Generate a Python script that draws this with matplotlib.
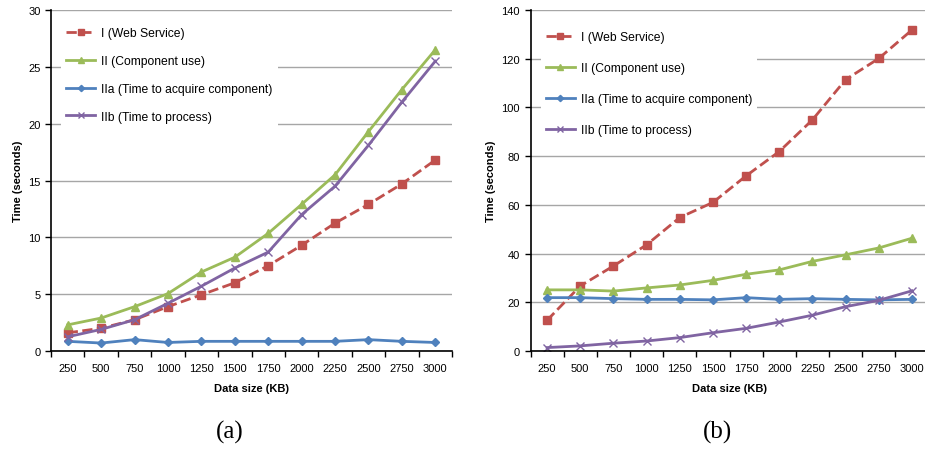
import numpy as np
import matplotlib as mpl
import matplotlib.pyplot as plt

# --- data
sizes = ["250", "500", "750", "1000", "1250", "1500", "1750",
         "2000", "2250", "2500", "2750", "3000"]
labels = ["I (Web Service)", "II (Component use)",
          "IIa (Time to acquire component)", "IIb (Time to process)"]

# panel (a)
a_web = [1.6, 2.0, 2.75, 3.9, 4.95, 6.0, 7.5, 9.3, 11.25, 12.9, 14.7, 16.8]
a_comp = [2.3, 2.9, 3.9, 5.05, 6.95, 8.25, 10.35, 12.9, 15.5, 19.3, 23.0, 26.5]
a_acq = [0.85, 0.7, 1.0, 0.75, 0.85, 0.85, 0.85, 0.85, 0.85, 1.0, 0.85, 0.75]
a_proc = [1.25, 1.9, 2.75, 4.2, 5.7, 7.3, 8.7, 12.0, 14.5, 18.1, 21.9, 25.5]

# panel (b)
b_web = [12.6, 26.7, 34.9, 43.6, 54.8, 61.0, 71.9, 81.9, 94.9, 111.4, 120.1, 131.8]
b_comp = [25.1, 25.1, 24.6, 25.9, 27.1, 29.0, 31.5, 33.3, 36.8, 39.5, 42.3, 46.3]
b_acq = [21.9, 21.9, 21.5, 21.2, 21.2, 21.0, 21.9, 21.2, 21.5, 21.2, 21.0, 21.2]
b_proc = [1.4, 2.1, 3.2, 4.1, 5.5, 7.5, 9.3, 11.9, 14.7, 18.2, 20.8, 24.7]

# --- style
mpl.rcParams.update({
    "font.family": "Liberation Sans",
    "font.size": 8,
    "axes.spines.top": False,
    "axes.spines.right": False,
})

colors = ["#C0504D", "#9BBB59", "#4F81BD", "#8064A2"]
styles = [
    dict(linestyle="--", marker="s", markersize=6),
    dict(linestyle="-", marker="^", markersize=6),
    dict(linestyle="-", marker="D", markersize=4),
    dict(linestyle="-", marker="x", markersize=6, markeredgewidth=1.0),
]

fig = plt.figure(figsize=(9.25, 4.52), dpi=100)
ax_a = fig.add_axes([51 / 925, 1 - 352 / 452, 401 / 925, 341 / 452])
ax_b = fig.add_axes([530.5 / 925, 1 - 352 / 452, 398 / 925, 341 / 452])


def draw_panel(ax, series, ymax, ystep, leg_top, leg_space):
    x = np.arange(len(sizes))
    for k, vals in enumerate(series):
        ax.plot(x, vals, color=colors[k], linewidth=2.0, label=labels[k],
                **styles[k])
    ax.set_xlim(-0.5, len(sizes) - 0.5)
    ax.set_ylim(0, ymax)
    ax.set_yticks(np.arange(0, ymax + 1, ystep))
    # category axis: ticks sit between categories
    ax.set_xticks(np.arange(-0.5, len(sizes), 1.0))
    ax.set_xticklabels([])
    ax.set_xticks(x, minor=True)
    ax.set_xticklabels(sizes, minor=True)
    ax.tick_params(axis="x", which="major", direction="out", length=4, width=1)
    ax.tick_params(axis="x", which="minor", length=0, pad=9, labelsize=8)
    ax.tick_params(axis="y", direction="out", length=4, width=1, labelsize=8)
    ax.grid(axis="y", color="#A6A6A6", linewidth=1.0)
    ax.set_axisbelow(True)
    for s in ("left", "bottom"):
        ax.spines[s].set_linewidth(1.2)
    ax.set_xlabel("Data size (KB)", fontweight="bold", labelpad=7)
    ax.set_ylabel("Time (seconds)", fontweight="bold")
    leg = ax.legend(loc="upper left", bbox_to_anchor=(0.02, leg_top),
                    frameon=True, framealpha=1, edgecolor="none",
                    fancybox=False, fontsize=8.7, handlelength=2.4,
                    handletextpad=0.5, labelspacing=leg_space,
                    markerscale=0.8, borderaxespad=0.2)
    leg.get_frame().set_facecolor("white")


draw_panel(ax_a, [a_web, a_comp, a_acq, a_proc], 30, 5, 0.97, 1.3)
draw_panel(ax_b, [b_web, b_comp, b_acq, b_proc], 140, 20, 0.96, 1.58)

fig.text(230 / 925, 1 - 432 / 452, "(a)", ha="center", va="center",
         family="Liberation Serif", fontsize=18)
fig.text(718 / 925, 1 - 432 / 452, "(b)", ha="center", va="center",
         family="Liberation Serif", fontsize=18)

fig.savefig("out.png", dpi=100)
